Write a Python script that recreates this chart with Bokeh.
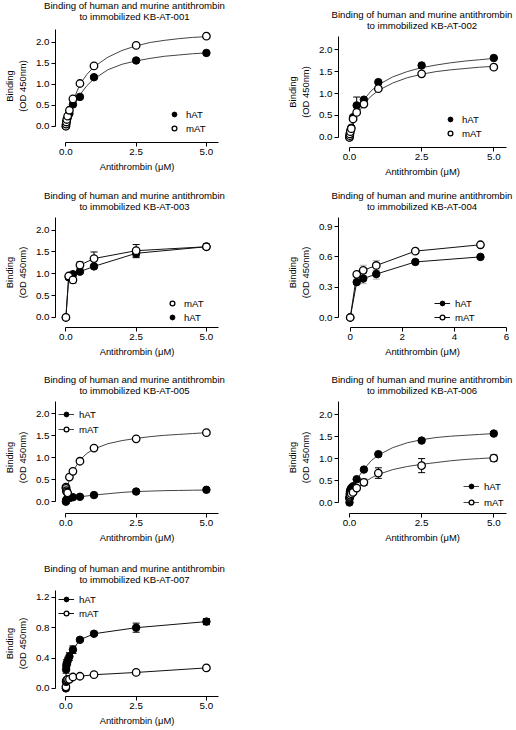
from bokeh.plotting import figure
from bokeh.models import (Range1d, FixedTicker, NumeralTickFormatter, Legend, LegendItem,
                          Whisker, TeeHead, ColumnDataSource, Div)
from bokeh.layouts import column, row
from bokeh.embed import file_html
from bokeh.resources import INLINE

FONT = "Liberation Sans"

# ---------------- data ----------------
CONC = [0, 0.0078, 0.0156, 0.031, 0.0625, 0.125, 0.25, 0.5, 1, 2.5, 5]
CONC_003 = [0, 0.1, 0.25, 0.5, 1, 2.5, 5]
CONC_004 = [0, 0.25, 0.5, 1, 2.5, 5]
FIT_X = [0, 0.1, 0.25, 0.5, 0.75, 1, 1.5, 2, 2.5, 3, 3.5, 4, 4.5, 5]

# KB-AT-001
AT001_HAT = [0.0, 0.04, 0.09, 0.14, 0.2, 0.3, 0.52, 0.7, 1.17, 1.57, 1.75]
AT001_MAT = [0.0, 0.05, 0.1, 0.16, 0.24, 0.38, 0.65, 1.02, 1.44, 1.93, 2.15]
AT001_FIT_HAT = [0, 0.2, 0.45, 0.75, 0.97, 1.13, 1.35, 1.48, 1.56, 1.62, 1.67, 1.70, 1.73, 1.75]
AT001_FIT_MAT = [0, 0.25, 0.6, 1.0, 1.24, 1.42, 1.65, 1.81, 1.92, 2.0, 2.05, 2.09, 2.12, 2.14]

# KB-AT-002
AT002_HAT = [0.0, 0.05, 0.1, 0.16, 0.22, 0.46, 0.73, 0.86, 1.26, 1.64, 1.81]
AT002_HAT_ERR = [0, 0, 0, 0, 0, 0, 0.19, 0, 0, 0, 0]
AT002_MAT = [0.0, 0.04, 0.08, 0.13, 0.2, 0.42, 0.57, 0.76, 1.11, 1.45, 1.60]
AT002_FIT_HAT = [0, 0.3, 0.56, 0.86, 1.06, 1.2, 1.38, 1.5, 1.59, 1.65, 1.7, 1.74, 1.77, 1.8]
AT002_FIT_MAT = [0, 0.26, 0.5, 0.76, 0.94, 1.07, 1.24, 1.36, 1.44, 1.5, 1.54, 1.57, 1.6, 1.62]

# KB-AT-003
AT003_HAT = [0.0, 0.92, 0.99, 1.05, 1.17, 1.47, 1.62]
AT003_HAT_ERR = [0, 0.05, 0.03, 0.03, 0.03, 0.1, 0.06]
AT003_MAT = [0.0, 0.95, 0.86, 1.2, 1.35, 1.53, 1.62]
AT003_MAT_ERR = [0, 0.03, 0.07, 0.07, 0.15, 0.14, 0.06]

# KB-AT-004
AT004_HAT = [0.0, 0.35, 0.385, 0.43, 0.55, 0.60]
AT004_HAT_ERR = [0, 0, 0.05, 0.05, 0, 0]
AT004_MAT = [0.0, 0.427, 0.467, 0.515, 0.657, 0.72]
AT004_MAT_ERR = [0, 0, 0.05, 0.05, 0, 0]

# KB-AT-005
AT005_HAT = [0.0, 0.02, 0.04, 0.05, 0.07, 0.08, 0.1, 0.11, 0.15, 0.23, 0.27]
AT005_MAT = [0.33, 0.3, 0.25, 0.22, 0.2, 0.56, 0.69, 0.92, 1.22, 1.43, 1.57]
AT005_FIT_HAT = [0.03, 0.07, 0.09, 0.11, 0.13, 0.15, 0.18, 0.21, 0.23, 0.24, 0.25, 0.255, 0.26, 0.265]
AT005_FIT_MAT = [0.1, 0.45, 0.69, 0.95, 1.1, 1.2, 1.32, 1.39, 1.44, 1.48, 1.51, 1.53, 1.55, 1.57]

# KB-AT-006
AT006_HAT = [0.0, 0.2, 0.25, 0.29, 0.33, 0.37, 0.53, 0.75, 1.10, 1.41, 1.57]
AT006_MAT = [0.1, 0.12, 0.14, 0.17, 0.2, 0.23, 0.33, 0.46, 0.67, 0.84, 1.01]
AT006_MAT_ERR = [0, 0, 0, 0, 0, 0.03, 0.04, 0.07, 0.12, 0.16, 0.07]
AT006_FIT_HAT = [0.18, 0.33, 0.52, 0.76, 0.95, 1.08, 1.25, 1.36, 1.43, 1.48, 1.51, 1.53, 1.55, 1.57]
AT006_FIT_MAT = [0.12, 0.2, 0.3, 0.45, 0.56, 0.64, 0.75, 0.82, 0.87, 0.91, 0.95, 0.98, 1.0, 1.02]

# KB-AT-007
AT007_HAT = [0.0, 0.25, 0.3, 0.33, 0.36, 0.42, 0.51, 0.64, 0.72, 0.80, 0.88]
AT007_HAT_ERR = [0, 0.05, 0.05, 0.05, 0.05, 0.05, 0.05, 0.02, 0.02, 0.06, 0.04]
AT007_MAT = [0.02, 0.09, 0.1, 0.11, 0.12, 0.12, 0.15, 0.16, 0.18, 0.21, 0.27]

TITLE_LINE1 = "Binding of human and murine antithrombin"
TITLE_LINE2 = "to immobilized {}"
Y_TICKS_2 = [0, 0.5, 1.0, 1.5, 2.0]
Y_TICKS_09 = [0, 0.3, 0.6, 0.9]
Y_TICKS_12 = [0, 0.4, 0.8, 1.2]
X_TICKS_5 = [0, 2.5, 5.0]
X_TICKS_6 = [0, 2, 4, 6]


def title_div(code, width, mbl, mbr, h, up):
    pad_top = max(0, h - 27 - up)
    html = ('<div style="box-sizing:border-box;width:{w}px;height:{h}px;padding-top:{pt}px;'
            'padding-left:{pl}px;text-align:center;white-space:nowrap;'
            "font-family:'Liberation Sans',Arial,sans-serif;font-size:9.6px;line-height:11px;"
            'color:#000;">{l1}<br>{l2}</div>').format(
        w=width, h=h, pt=pad_top, pl=mbl - mbr, l1=TITLE_LINE1, l2=TITLE_LINE2.format(code))
    return Div(text=html, width=width, height=h, margin=0)


def panel(code, col, height, mbt, mbb, xr, yr, xticks, yticks, xfmt,
          xh, yh, eh, xm, ym, em, fith=None, fitm=None, connect=False,
          order=("hAT", "mAT"), leg_loc=(0, 0), leg_line=False, leg_spacing=2,
          err_color="black", title_up=0):
    if col == 0:
        width, mbl, mbr = 250, 51, 32
    else:
        width, mbl, mbr = 266, 88, 10
    p = figure(width=width, height=height - mbt, x_range=Range1d(*xr), y_range=Range1d(*yr),
               output_backend="svg", toolbar_location=None, title=None,
               min_border_left=mbl, min_border_right=mbr,
               min_border_top=0, min_border_bottom=mbb)
    p.outline_line_color = None
    p.xgrid.visible = False
    p.ygrid.visible = False

    for ax in (p.xaxis, p.yaxis):
        ax.axis_line_color = "black"
        ax.axis_line_width = 1
        ax.major_tick_line_color = "black"
        ax.major_tick_out = 4
        ax.major_tick_in = 0
        ax.minor_tick_line_color = None
        ax.major_label_standoff = 2
        ax.major_label_text_font = FONT
        ax.major_label_text_font_size = "9.8px"
        ax.major_label_text_color = "black"
        ax.axis_label_text_font = FONT
        ax.axis_label_text_font_size = "9.4px"
        ax.axis_label_text_font_style = "normal"
        ax.axis_label_text_color = "black"
    p.xaxis.ticker = FixedTicker(ticks=xticks)
    p.yaxis.ticker = FixedTicker(ticks=yticks)
    p.xaxis.formatter = NumeralTickFormatter(format=xfmt)
    p.yaxis.formatter = NumeralTickFormatter(format="0.0")
    p.xaxis.bounds = (0, xr[1])
    p.yaxis.bounds = (0, yr[1])
    p.xaxis.axis_label = "Antithrombin (\u03bcM)"
    p.yaxis.axis_label = "Binding\n(OD 450nm)"
    p.xaxis.axis_label_standoff = 3
    p.yaxis.axis_label_standoff = 5

    lines = {}
    if fith is not None:
        lines["hAT"] = p.line(FIT_X, fith, line_color="#444444", line_width=1)
        lines["mAT"] = p.line(FIT_X, fitm, line_color="#444444", line_width=1)
    elif connect:
        lines["hAT"] = p.line(xh, yh, line_color="#111111", line_width=1)
        lines["mAT"] = p.line(xm, ym, line_color="#111111", line_width=1)

    for xs, ys, es in ((xh, yh, eh), (xm, ym, em)):
        if es is None:
            continue
        sel = [i for i, e in enumerate(es) if e > 0]
        if not sel:
            continue
        src = ColumnDataSource(dict(
            base=[xs[i] for i in sel],
            upper=[ys[i] + es[i] for i in sel],
            lower=[ys[i] - es[i] for i in sel]))
        w = Whisker(source=src, base="base", upper="upper", lower="lower",
                    dimension="height", line_color=err_color, line_width=1,
                    upper_head=TeeHead(size=7, line_color=err_color, line_width=1),
                    lower_head=TeeHead(size=7, line_color=err_color, line_width=1),
                    level="underlay")
        p.add_layout(w)

    pts = {}
    pts["hAT"] = p.scatter(xh, yh, marker="circle", size=7.5, fill_color="black",
                           line_color="black", line_width=1)
    pts["mAT"] = p.scatter(xm, ym, marker="circle", size=7.5, fill_color="white",
                           line_color="black", line_width=1.3)

    items = []
    for name in order:
        rs = [pts[name]]
        if leg_line and name in lines:
            rs = [lines[name], pts[name]]
        items.append(LegendItem(label=name, renderers=rs))
    leg = Legend(items=items, location=leg_loc, background_fill_alpha=0,
                 border_line_color=None, padding=0, margin=0, spacing=leg_spacing,
                 glyph_height=12, glyph_width=16 if leg_line else 14,
                 label_standoff=5, label_height=12,
                 label_text_font=FONT, label_text_font_size="9.6px",
                 label_text_color="black")
    p.add_layout(leg)
    return column(title_div(code, width, mbl, mbr, mbt, title_up), p)


p1 = panel("KB-AT-001", 0, 183, 29, 41, (-0.37, 5.43), (-0.39, 2.31), X_TICKS_5, Y_TICKS_2, "0.0",
           CONC, AT001_HAT, None, CONC, AT001_MAT, None,
           fith=AT001_FIT_HAT, fitm=AT001_FIT_MAT, leg_loc=(112, 8), title_up=2)
p2 = panel("KB-AT-002", 1, 183, 36, 36, (-0.38, 5.44), (-0.23, 2.30), X_TICKS_5, Y_TICKS_2, "0.0",
           CONC, AT002_HAT, AT002_HAT_ERR, CONC, AT002_MAT, None,
           fith=AT002_FIT_HAT, fitm=AT002_FIT_MAT, leg_loc=(105, 8))
p3 = panel("KB-AT-003", 0, 188, 34, 44, (-0.37, 5.43), (-0.23, 2.29), X_TICKS_5, Y_TICKS_2, "0.0",
           CONC_003, AT003_HAT, AT003_HAT_ERR, CONC_003, AT003_MAT, AT003_MAT_ERR,
           connect=True, order=("mAT", "hAT"), leg_loc=(110, 4))
p4 = panel("KB-AT-004", 1, 188, 34, 44, (-0.45, 6.0), (-0.099, 0.99), X_TICKS_6, Y_TICKS_09, "0",
           CONC_004, AT004_HAT, AT004_HAT_ERR, CONC_004, AT004_MAT, AT004_MAT_ERR,
           connect=True, leg_loc=(96, 4), leg_line=True, err_color="#b0b0b0")
p5 = panel("KB-AT-005", 0, 188, 30, 46, (-0.37, 5.43), (-0.27, 2.28), X_TICKS_5, Y_TICKS_2, "0.0",
           CONC, AT005_HAT, None, CONC, AT005_MAT, None,
           fith=AT005_FIT_HAT, fitm=AT005_FIT_MAT, leg_loc=(3, 78), leg_line=True, leg_spacing=3)
p6 = panel("KB-AT-006", 1, 188, 30, 46, (-0.38, 5.44), (-0.25, 2.30), X_TICKS_5, Y_TICKS_2, "0.0",
           CONC, AT006_HAT, None, CONC, AT006_MAT, AT006_MAT_ERR,
           fith=AT006_FIT_HAT, fitm=AT006_FIT_MAT, leg_loc=(125, 5), leg_line=True, leg_spacing=4)
p7 = panel("KB-AT-007", 0, 171, 31, 34, (-0.37, 5.43), (-0.107, 1.29), X_TICKS_5, Y_TICKS_12, "0.0",
           CONC, AT007_HAT, AT007_HAT_ERR, CONC, AT007_MAT, None,
           connect=True, leg_loc=(3, 77), leg_line=True)

layout = column(row(p1, p2), row(p3, p4), row(p5, p6), row(p7))

open("out.html", "w").write(file_html(layout, INLINE))
